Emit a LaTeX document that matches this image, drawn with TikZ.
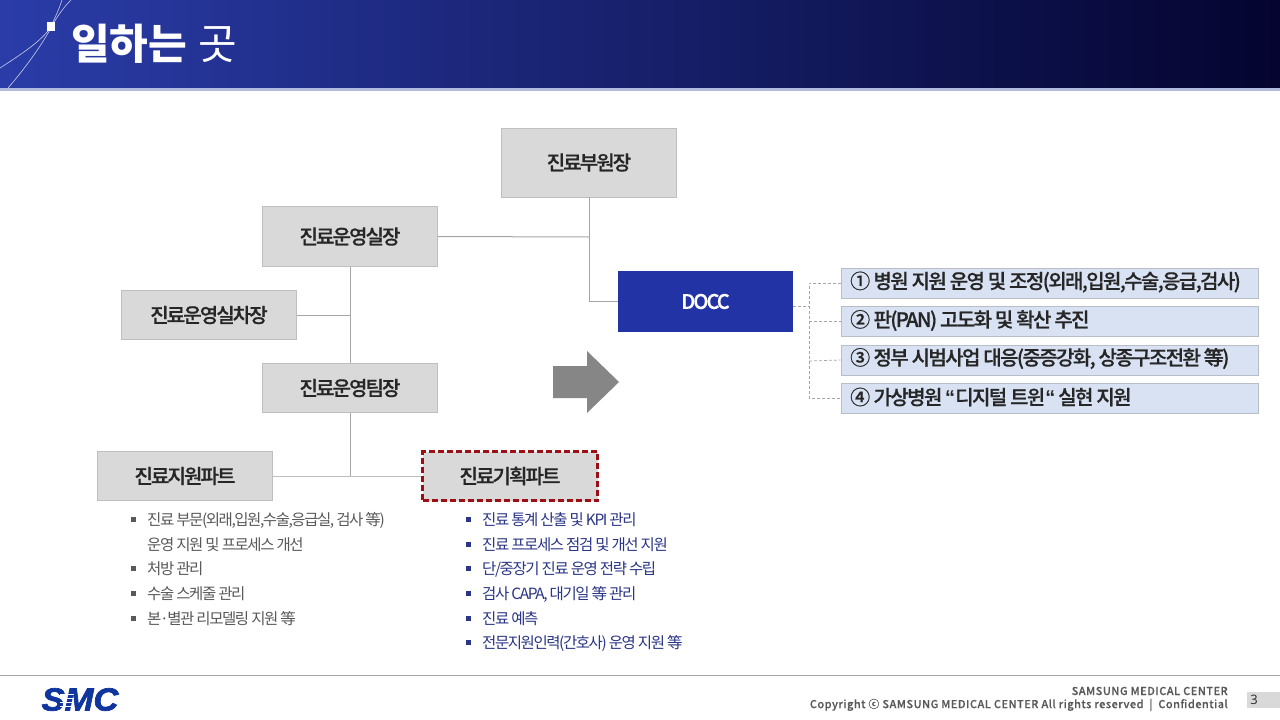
\documentclass[tikz,border=0pt]{standalone}
\usepackage{fontspec}
\setmainfont{Noto Sans CJK KR}
\newfontfamily\krbox{Noto Sans CJK KR Medium}[LetterSpace=-9.5,FakeBold=0.6]
\newfontfamily\krlist{Noto Sans CJK KR Medium}[LetterSpace=-8,FakeBold=0.6]
\newfontfamily\krtight{Noto Sans CJK KR}[LetterSpace=-9.2]
\newfontfamily\foot{Noto Sans CJK KR Medium}[LetterSpace=4.2,FakeBold=0.3]
\newfontfamily\pagefont{Noto Sans}
\newfontfamily\logofont{Liberation Sans}[FakeBold=2.2,FakeStretch=1.08]
\newfontfamily\quotefont{Liberation Sans}
\newcommand\lift[1]{\raisebox{1pt}{#1}}
\usetikzlibrary{shadings}
\definecolor{headL}{HTML}{2A3CA8}
\definecolor{headM}{HTML}{17206B}
\definecolor{headR}{HTML}{04042F}
\definecolor{boxg}{HTML}{D9D9D9}
\definecolor{boxl}{HTML}{BFBFBF}
\definecolor{docc}{HTML}{2233A5}
\definecolor{lst}{HTML}{D9E2F3}
\definecolor{lstb}{HTML}{B8BEC8}
\definecolor{conn}{HTML}{A6A6A6}
\definecolor{redd}{HTML}{9C0F14}
\definecolor{navy}{HTML}{2A3585}
\definecolor{grytx}{HTML}{595959}
\definecolor{logo}{HTML}{10359C}
\definecolor{stripe}{HTML}{B4BADB}
\tikzset{
 x=1pt,y=-1pt,
 orgbox/.style={draw=boxl,line width=.8pt,fill=boxg,minimum width=175pt,text=black!85,font=\fontsize{20}{24}\selectfont\krbox,inner sep=0pt},
 lstbox/.style={draw=lstb,line width=.8pt,fill=lst,minimum width=417pt,minimum height=30pt,inner sep=0pt},
 lsttext/.style={anchor=west,text=black!85,font=\fontsize{20}{24}\selectfont\krlist,inner sep=0pt},
 orgline/.style={draw=conn,line width=1pt},
 dashline/.style={draw=conn,line width=.7pt,dash pattern=on 3pt off 2pt},
 gitem/.style={anchor=west,inner sep=0pt,text=grytx,font=\fontsize{15.5}{18}\selectfont\krtight},
 bitem/.style={anchor=west,inner sep=0pt,text=navy,font=\fontsize{15.5}{18}\selectfont\krtight},
 gbul/.style={fill=grytx,minimum size=5pt,inner sep=0pt},
 bbul/.style={fill=navy,minimum size=5pt,inner sep=0pt},
 foottext/.style={anchor=east,inner sep=0pt,text=grytx,font=\fontsize{11}{12}\selectfont\foot},
}
\begin{document}
\begin{tikzpicture}
\useasboundingbox (0,0) rectangle (1280,720);
\fill[white] (0,0) rectangle (1280,720);
% header
\shade[left color=headL,right color=headR,middle color=headM,shading angle=90] (0,0) rectangle (1280,88);
\fill[stripe] (0,88) rectangle (1280,91);
\draw[white!75!headL,line width=.6pt] (0,68) .. controls (25,52) and (45,38) .. (51,26) .. controls (57,14) and (60,6) .. (62,0);
\draw[white!75!headL,line width=.6pt] (8,88) .. controls (28,65) and (45,40) .. (53,24) .. controls (60,12) and (66,5) .. (71,0);
\fill[white] (47,22) rectangle (55,30.5);
\node[anchor=west,inner sep=0pt,text=white] (title) at (71,44) {\fontsize{42}{48}\selectfont\bfseries 일하는\hspace{11pt}{\mdseries 곳}};
% nodes
\node[orgbox,minimum width=175pt,minimum height=69pt] (vp) at (589,162.5) {\lift{진료부원장}};
\node[orgbox,minimum width=175pt,minimum height=60pt] (dir) at (350,236.5) {\lift{진료운영실장}};
\node[orgbox,minimum width=175pt,minimum height=49pt] (dep) at (209,315) {\lift{진료운영실차장}};
\node[orgbox,minimum width=175pt,minimum height=49pt] (lead) at (350,388) {\lift{진료운영팀장}};
\node[orgbox,minimum width=175pt,minimum height=49pt] (sup) at (185,476) {\lift{진료지원파트}};
\node[orgbox,minimum width=175pt,minimum height=49pt,draw=redd,line width=3pt,dash pattern=on 6pt off 3pt] (plan) at (510,476) {\lift{진료기획파트}};
\node[fill=docc,draw=none,minimum width=175pt,minimum height=61pt,inner sep=0pt,text=white,font=\fontsize{20}{24}\selectfont\krbox] (docc) at (705.5,301.5) {DOCC};
\node[lstbox] (l1) at (1049.5,283) {};
\node[lstbox] (l2) at (1049.5,321.5) {};
\node[lstbox] (l3) at (1049.5,360) {};
\node[lstbox] (l4) at (1049.5,398) {};
\node[lsttext] (t1) at (850,282) {①\,병원 지원 운영 및 조정(외래,입원,수술,응급,검사)};
\node[lsttext] (t2) at (850,320.5) {②\,판(PAN) 고도화 및 확산 추진};
\node[lsttext] (t3) at (850,358.5) {③\,정부 시범사업 대응(중증강화, 상종구조전환 等)};
\node[lsttext] (t4) at (850,397) {④\,가상병원 {\quotefont\bfseries “}디지털 트윈{\quotefont\bfseries “} 실현 지원};
% connectors
\coordinate (trunkA) at (809,283);
\coordinate (trunkB) at (809,306);
\coordinate (vpj) at (589,237);
\coordinate (depj) at (350,315);
\coordinate (leadj) at (350,476);
\draw[orgline] (vp.south) |- (docc.west);
\draw[orgline] (dir.east) -- (vpj);
\draw[orgline] (dir.south) -- (lead.north);
\draw[orgline] (dep.east) -- (depj);
\draw[orgline] (lead.south) -- (leadj);
\draw[orgline,draw=boxl] (sup.east) -- (plan.west);
\draw[dashline] (793,306) -- (trunkB);
\draw[dashline] (l1.west) -- (trunkA) -- (809,398) -- (l4.west);
\draw[dashline] (809,321.5) -- (l2.west);
\draw[dashline] (809,361) -- (l3.west);
% block arrow
\fill[gray!95] (553,366) -- (587,366) -- (587,351) -- (619,382) -- (587,413) -- (587,398) -- (553,398) -- cycle;
% left list
\node[gbul] (gb1) at (133,519.5) {}; \node[gitem] (g1) at (147,520) {진료 부문(외래,입원,수술,응급실, 검사 等)};
\node[gitem] (g1b) at (147,545) {운영 지원 및 프로세스 개선};
\node[gbul] (gb2) at (133,568.5) {}; \node[gitem] (g2) at (147,569) {처방 관리};
\node[gbul] (gb3) at (133,593.5) {}; \node[gitem] (g3) at (147,594) {수술 스케줄 관리};
\node[gbul] (gb4) at (133,618.5) {}; \node[gitem] (g4) at (147,619) {본·별관 리모델링 지원 等};
% right list
\node[bbul] (bb1) at (468,519.5) {}; \node[bitem] (b1) at (482,520) {진료 통계 산출 및 KPI 관리};
\node[bbul] (bb2) at (468,544.5) {}; \node[bitem] (b2) at (482,545) {진료 프로세스 점검 및 개선 지원};
\node[bbul] (bb3) at (468,568.5) {}; \node[bitem] (b3) at (482,569) {단/중장기 진료 운영 전략 수립};
\node[bbul] (bb4) at (468,593.5) {}; \node[bitem] (b4) at (482,594) {검사 CAPA, 대기일 等 관리};
\node[bbul] (bb5) at (468,618.5) {}; \node[bitem] (b5) at (482,619) {진료 예측};
\node[bbul] (bb6) at (468,642.5) {}; \node[bitem] (b6) at (482,643) {전문지원인력(간호사) 운영 지원 等};
% footer
\draw[conn,line width=1pt] (0,675.5) -- (1280,675.5);
\node[anchor=center,inner sep=0pt,text=logo] (smc) at (80,699.5) {\logofont\fontsize{32}{32}\selectfont\bfseries\itshape SMC};
\foreach \yy in {694,698,702,706}{\fill[white] (60,\yy) rectangle (74,\yy+1.2);}
\node[foottext] (f1) at (1228,691) {SAMSUNG MEDICAL CENTER};
\node[foottext] (f2) at (1228,705) {Copyright ⓒ SAMSUNG MEDICAL CENTER All rights reserved\ \ |\ \ Confidential};
\fill[boxg] (1247,692) rectangle (1280,708);
\node[anchor=center,inner sep=0pt,text=black!80,font=\fontsize{13}{14}\selectfont\pagefont] (pg) at (1254,700) {3};
\end{tikzpicture}
\end{document}
